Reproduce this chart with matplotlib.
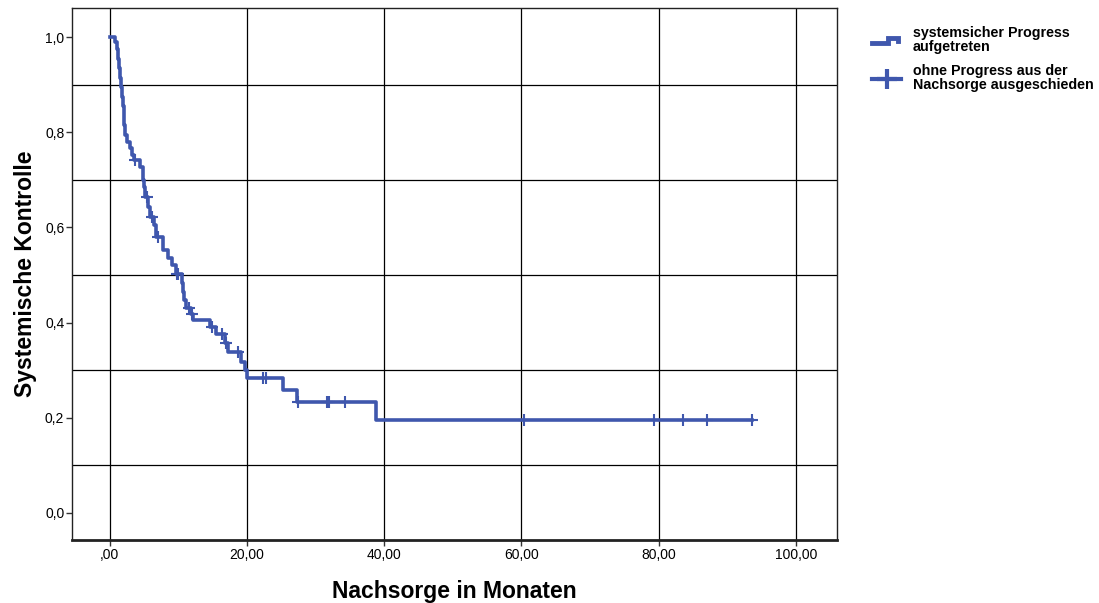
#!/usr/bin/env python3
"""
Kaplan-Meier style curve: systemische Kontrolle vs. Nachsorge in Monaten
"""

import numpy as np
import matplotlib
matplotlib.use("Agg")
import matplotlib.pyplot as plt
from matplotlib.lines import Line2D
from matplotlib.legend_handler import HandlerBase

# event times (months) and survival level after each event
event_times = [0.7, 1.0, 1.2, 1.4, 1.55, 1.7, 1.85, 1.95, 2.05, 2.15, 2.2,
               2.5, 2.9, 3.3, 3.5, 4.4, 4.8, 4.9, 5.0, 5.1, 5.6, 5.8, 6.4,
               6.8, 7.7, 8.5, 9.1, 9.6, 10.5, 10.7, 10.9, 11.1, 11.8, 12.2,
               14.6, 15.5, 16.8, 17.2, 19.2, 19.7, 20.0, 25.3, 27.3, 38.8]
event_surv = [0.99, 0.975, 0.955, 0.935, 0.915, 0.895, 0.875, 0.855, 0.835,
              0.815, 0.794, 0.780, 0.767, 0.752, 0.742, 0.727, 0.714, 0.700,
              0.685, 0.664, 0.643, 0.622, 0.605, 0.580, 0.553, 0.536, 0.521,
              0.502, 0.483, 0.465, 0.447, 0.430, 0.418, 0.405, 0.390, 0.375,
              0.358, 0.338, 0.318, 0.300, 0.283, 0.258, 0.233, 0.195]

# censored cases (months)
censor_times = [3.65, 5.4, 6.1, 7.0, 9.8, 10.0, 11.5, 12.0, 14.9, 16.4, 17.0,
                18.7, 22.3, 22.8, 27.4, 31.7, 32.0, 34.3, 60.4, 79.3, 83.6,
                87.0, 93.6]

x_ticks = [0, 20, 40, 60, 80, 100]
x_labels = [",00", "20,00", "40,00", "60,00", "80,00", "100,00"]
y_ticks = [0.0, 0.2, 0.4, 0.6, 0.8, 1.0]
y_labels = ["0,0", "0,2", "0,4", "0,6", "0,8", "1,0"]
y_grid = [0.1, 0.3, 0.5, 0.7, 0.9]

legend_labels = ["systemsicher Progress\naufgetreten",
                 "ohne Progress aus der\nNachsorge ausgeschieden"]

LINE_COLOR = "#3f57ad"
FONT = ["Liberation Sans", "DejaVu Sans"]


class StepHandler(HandlerBase):
    """Draws the little step symbol used in the legend"""
    def create_artists(self, legend, orig_handle, xdescent, ydescent,
                       width, height, fontsize, trans):
        xs = np.array([0.0, 0.55, 0.55, 0.9, 0.9]) * width - xdescent
        ys = np.array([0.25, 0.25, 0.8, 0.8, 0.45]) * height - ydescent
        line = Line2D(xs, ys, color=LINE_COLOR, lw=3.5,
                      solid_joinstyle="miter", transform=trans)
        return [line]


def main():
    plt.rcParams["font.family"] = FONT

    fig = plt.figure(figsize=(10.99, 6.03), dpi=100)
    ax = fig.add_axes([0.0655, 0.1045, 0.696, 0.882])

    # step curve
    end_time = max(censor_times)
    t = np.array([0.0] + event_times + [end_time])
    s = np.array([1.0] + event_surv + [event_surv[-1]])
    ax.step(t, s, where="post", color=LINE_COLOR, lw=2.6, zorder=3)

    # censor marks on the curve
    idx = np.searchsorted(t, censor_times, side="right") - 1
    ax.plot(censor_times, s[idx], "+", color=LINE_COLOR, ms=9, mew=1.5,
            zorder=4)

    ax.set_xlim(-5.5, 106)
    ax.set_ylim(-0.057, 1.061)

    ax.set_xticks(x_ticks)
    ax.set_xticklabels(x_labels, fontsize=10)
    ax.set_yticks(y_ticks)
    ax.set_yticklabels(y_labels, fontsize=10)
    ax.set_yticks(y_grid, minor=True)
    ax.tick_params(axis="both", which="major", length=4, width=1,
                   color="#333333", pad=1.5)
    ax.tick_params(axis="y", which="minor", length=0)

    ax.grid(axis="x", which="major", color="black", lw=0.9)
    ax.grid(axis="y", which="minor", color="black", lw=0.9)
    ax.set_axisbelow(True)

    for side in ["top", "right", "left"]:
        ax.spines[side].set_color("#222222")
        ax.spines[side].set_linewidth(1.0)
    ax.spines["bottom"].set_color("#222222")
    ax.spines["bottom"].set_linewidth(2.0)

    ax.set_xlabel("Nachsorge in Monaten", fontsize=16.5, fontweight="bold",
                  labelpad=13)
    ax.set_ylabel("Systemische Kontrolle", fontsize=16.5, fontweight="bold",
                  labelpad=6)

    # legend outside the plot on the right
    h_step = Line2D([], [], color=LINE_COLOR)
    h_cens = Line2D([0, 1], [0, 0], color=LINE_COLOR, lw=3, marker="+",
                    ms=14, mew=3)
    leg = fig.legend([h_step, h_cens], legend_labels,
                     handler_map={h_step: StepHandler()},
                     loc="upper left", bbox_to_anchor=(0.782, 0.978),
                     frameon=False, handlelength=2.0, handletextpad=0.85,
                     labelspacing=0.7, prop={"weight": "bold", "size": 10.3})
    for txt in leg.get_texts():
        txt.set_linespacing(1.0)

    fig.savefig("out.png", dpi=100, facecolor="white")


if __name__ == "__main__":
    main()
